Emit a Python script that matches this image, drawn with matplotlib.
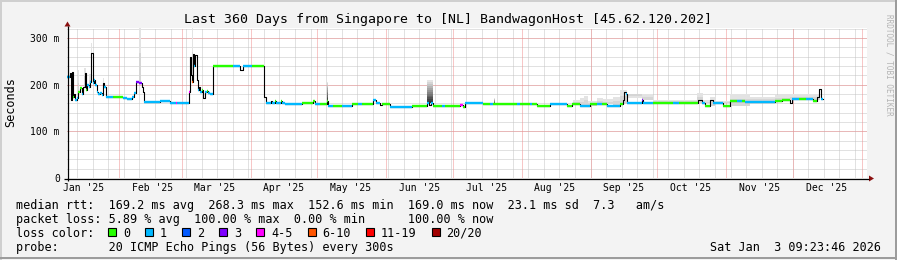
import numpy as np
import matplotlib
matplotlib.use("Agg")
import matplotlib.pyplot as plt
from matplotlib.patches import Rectangle, Polygon

plt.rcParams['font.family'] = ['DejaVu Sans Mono']

W, H = 897, 260

# time axis in days since 2025-01-01 00:00
t_end = 367.39          # Sat Jan 3 2026 09:23:46
t_start = t_end - 360.0
y_top = 321.4

month_starts = [0, 31, 59, 90, 120, 151, 181, 212, 243, 273, 304, 334, 365]
month_labels = ["Jan '25", "Feb '25", "Mar '25", "Apr '25", "May '25", "Jun '25",
                "Jul '25", "Aug '25", "Sep '25", "Oct '25", "Nov '25", "Dec '25"]

# median rtt (ms) valid from seg_day on, loss class index (-1 = only the dark line)
seg_day = [7.39, 8.7, 9.0, 9.5, 9.9, 10.5, 11.0, 11.7, 12.5, 13.2, 14.0, 14.7, 15.5, 15.9,
           16.5, 17.1, 17.7, 18.3, 18.9, 19.5, 20.1, 20.7, 21.5, 22.2, 23.0, 23.7, 24.2,
           24.8, 28.2, 32.7, 34.2, 36.5, 37.5, 38.3, 40.0, 41.0, 41.6, 42.0, 49.2, 53.7,
           56.5, 57.0, 62.3, 62.7, 63.2, 63.6, 64.1, 64.6, 65.2, 65.7, 66.2, 66.8, 67.4,
           68.1, 68.8, 69.4, 70.2, 71.0, 71.9, 73.2, 82.2, 85.2, 86.4, 90.5,
           96.2, 96.8, 98.0, 99.0, 99.6, 101.1, 101.6, 103.5, 104.1, 105.5, 113.0, 118.2,
           119.0, 121.3, 124.2, 125.0, 127.2, 131.0, 135.5, 138.5, 140.0, 145.2, 146.3,
           148.2, 149.0, 152.7, 162.5, 169.2, 170.5, 171.3, 172.2, 176.0, 177.5,
           184.2, 185.4, 186.5, 194.7, 197.7, 199.2, 209.7, 211.2, 215.7, 216.5, 218.7,
           224.7, 232.2, 234.5, 238.2, 242.7, 246.0, 248.0, 250.2, 256.2, 257.7, 258.2,
           258.8, 259.5, 266.0, 266.7, 271.2, 280.0, 283.0, 291.5, 293.0, 294.5, 296.8,
           298.2, 302.8, 305.8, 309.0, 311.0, 312.5, 326.0, 329.0, 332.8, 333.5, 337.0,
           340.0, 343.2, 344.8, 346.0, 346.7]
seg_rtt = [217, 224, 167, 228, 174, 181, 167, 171, 185, 192, 181, 196, 224, 189,
           199, 196, 206, 268.3, 203, 210, 199, 185, 180, 183, 178, 203, 196,
           174, 174, 171, 169, 173, 183, 206, 204, 196, 185, 162, 164, 160,
           160, 160, 185, 260, 221, 206, 266, 239, 263, 210, 189, 196, 185,
           189, 171, 185, 187, 183, 181, 239, 240, 232, 239, 239,
           174, 161, 160, 166, 160, 165, 160, 164, 160, 158, 160, 164,
           158, 158, 164, 155, 155, 155, 158, 158, 158, 167, 160,
           156, 158, 152.6, 155, 160, 157, 161, 154, 154, 154,
           156.5, 153, 160, 158.6, 158.6, 158, 158, 158, 158, 158, 155,
           158, 155, 158, 155, 158, 158, 158, 155, 158, 168, 185,
           180, 160, 167, 161.5, 161.5, 161.5, 160, 167, 160, 154.3, 168,
           161.5, 154, 165.7, 165.7, 165.7, 162.2, 165.7, 167, 161, 168.6, 168.6,
           168.6, 165.7, 174.3, 190, 168.6]
seg_loss = [1, -1, -1, -1, 0, -1, 1, 1, 0, 0, 1, -1, -1, 0,
            1, 1, 1, -1, 1, 1, 1, 1, 1, 1, 1, -1, 1,
            1, 0, 1, 1, 1, 1, 3, 3, -1, -1, 1, 1, 1,
            4, 1, 4, -1, -1, 5, -1, 1, -1, -1, 1, -1, 1,
            0, -1, 1, 0, 1, 1, 0, 1, -1, 1, 0,
            -1, 1, 1, -1, 1, 0, 1, 0, 1, 1, 0, 0,
            1, 0, 0, 1, 0, 1, 0, 1, 0, 1, 1,
            -1, 0, 1, 0, 1, -1, 1, 0, 1, 0,
            4, 0, 1, 0, 1, 0, 1, 0, 1, 0, 0,
            1, 0, 0, 1, 0, 1, 0, 1, 0, -1, -1,
            1, 1, 3, 1, 0, 1, 0, -1, 1, 0, -1,
            1, 0, 0, 1, 0, 1, 0, 0, -1, 1, 0,
            1, 0, -1, -1, 1]
data_end = 347.8

# smoke (ping spread): start day, end day, top (ms), dark gradient or light
smoke_start = [12.3, 15.2, 17.4, 18.2, 23.5, 40.0, 63.6, 124.2, 169.2, 199.5,
               235.2, 238.2, 240.0, 242.0, 245.7, 248.7, 253.2, 256.2, 259.2, 266.0, 271.2,
               276.5, 290.75, 293.75, 296.75, 299.0, 305.75, 314.75, 326.0, 332.75, 346.25]
smoke_end = [13.0, 15.8, 18.0, 18.6, 24.0, 40.6, 64.3, 125.0, 172.2, 200.0,
             238.2, 240.0, 242.0, 245.7, 248.7, 253.2, 256.2, 259.2, 266.0, 271.2, 276.5,
             290.75, 293.75, 296.75, 299.0, 305.75, 314.75, 326.0, 332.75, 346.25, 348.2]
smoke_top = [232, 236, 222, 290, 215, 321.4, 321.4, 206, 210, 171,
             167, 170.7, 176.5, 165.7, 170.7, 168.6, 174.3, 188.6, 170.7, 180, 167,
             167, 183, 167, 174, 165.7, 181, 174, 178, 180, 190]
smoke_dark = [False, False, False, False, False, False, False, True, True, True,
              False, False, False, False, False, False, False, False, False, False, False,
              False, False, False, False, False, False, False, False, False, False]

loss_names = ["0", "1", "2", "3", "4-5", "6-10", "11-19", "20/20"]
loss_colors = ["#26ff00", "#00b8ff", "#0059ff", "#7e00ff", "#ff00ff", "#ff5500",
               "#ff0000", "#a10000"]

title = "Last 360 Days from Singapore to [NL] BandwagonHost [45.62.120.202]"
legend_lines = [
    "median rtt:  169.2 ms avg  268.3 ms max  152.6 ms min  169.0 ms now  23.1 ms sd  7.3   am/s",
    "packet loss: 5.89 % avg  100.00 % max  0.00 % min      100.00 % now",
    "loss color:",
    "probe:       20 ICMP Echo Pings (56 Bytes) every 300s",
]
stamp = "Sat Jan  3 09:23:46 2026"


def rtt_at(d):
    i = np.searchsorted(seg_day, d, side='right') - 1
    return seg_rtt[max(i, 0)]


fig = plt.figure(figsize=(W / 100, H / 100), dpi=100, facecolor="#f3f3f3")
ax = fig.add_axes([67 / W, (H - 178) / H, 800 / W, 150 / H])
ax.set_facecolor("white")
ax.set_xlim(t_start, t_end)
ax.set_ylim(0, y_top)
for s in ax.spines.values():
    s.set_visible(False)

# grid
for d in np.arange(5, t_end, 7):
    if d > t_start:
        ax.axvline(d, color="#c4c4c4", lw=0.72, dashes=(1, 1), zorder=0.5)
for v in np.arange(20, y_top, 20):
    ax.axhline(v, color="#c4c4c4", lw=0.72, dashes=(1, 1), zorder=0.5)
for d in month_starts:
    if t_start < d < t_end:
        ax.axvline(d, color="#f09090", lw=0.72, dashes=(1, 1), zorder=0.6)
for v in [100, 200, 300]:
    ax.axhline(v, color="#f09090", lw=0.72, dashes=(1, 1), zorder=0.6)

# smoke
for s0, s1, top, dark in zip(smoke_start, smoke_end, smoke_top, smoke_dark):
    base = rtt_at(s0)
    if dark:
        n = 12
        for k in range(n):
            lo = base + (top - base) * k / n
            hi = base + (top - base) * (k + 1) / n
            g = 0.2 + 0.7 * k / (n - 1)
            ax.bar(s0, hi - lo, width=s1 - s0, bottom=lo, align='edge',
                   color=(g, g, g), lw=0, zorder=2)
    else:
        mid = base + (top - base) * 0.55
        ax.bar(s0, mid - base, width=s1 - s0, bottom=base, align='edge',
               color="#d5d5d5", lw=0, zorder=2)
        ax.bar(s0, top - mid, width=s1 - s0, bottom=mid, align='edge',
               color="#e3e3e3", lw=0, zorder=2)

# median line
ax.step(seg_day + [data_end], seg_rtt + [seg_rtt[-1]], where='post',
        color="#000000", lw=0.8, zorder=3)
ends = seg_day[1:] + [data_end]
for d0, d1, r, c in zip(seg_day, ends, seg_rtt, seg_loss):
    if c >= 0:
        ax.hlines(r, d0, d1, color=loss_colors[c], lw=1.7, zorder=4, capstyle='butt')

# ticks
label_days = [m + 15 for m in month_starts[:12]]
ax.set_xticks(label_days, month_labels)
ax.set_yticks([0, 100, 200, 300], ["0", "100 m", "200 m", "300 m"])
ax.tick_params(length=0, labelsize=7, colors="#000000")
ax.tick_params(axis='x', pad=3.7)
ax.tick_params(axis='y', pad=5.2)

# overlay in pixel coordinates
ov = fig.add_axes([0, 0, 1, 1], zorder=5)
ov.set_xlim(0, W)
ov.set_ylim(H, 0)
ov.axis('off')

# frame
ov.add_patch(Rectangle((0, 0), W, 2, color="#cfcfcf", lw=0))
ov.add_patch(Rectangle((0, 0), 2, H, color="#cfcfcf", lw=0))
ov.add_patch(Rectangle((0, H - 3), W, 2, color="#9c9c9c", lw=0))
ov.add_patch(Rectangle((W - 2, 0), 2, H, color="#9c9c9c", lw=0))

# axes with arrows
ov.plot([64, 869], [178.5, 178.5], color="#000000", lw=0.9, solid_capstyle='butt')
ov.plot([67.5, 67.5], [181, 26], color="#000000", lw=0.9, solid_capstyle='butt')
ov.add_patch(Polygon([(869, 175.5), (874, 178.5), (869, 181.5)], closed=True,
                     color="#8b1010", lw=0))
ov.add_patch(Polygon([(64.5, 26.5), (67.5, 21.5), (70.5, 26.5)], closed=True,
                     color="#8b1010", lw=0))

ov.text(448, 20, title, ha='center', va='center', fontsize=9.5, color="#000000")
ov.text(11, 102.5, "Seconds", rotation=90, ha='center', va='center', fontsize=8.5)
ov.text(889, 65, "RRDTOOL / TOBI OETIKER", rotation=270, ha='center', va='center',
        fontsize=5.5, color="#b4b4b4")

cw = 7.1
for i, line in enumerate(legend_lines):
    ov.text(16, 205.5 + 14 * i, line, ha='left', va='center', fontsize=8.5)
ov.text(881, 247.5, stamp, ha='right', va='center', fontsize=8.5)

bx = 108
for name, col in zip(loss_names, loss_colors):
    ov.add_patch(Rectangle((bx, 228), 8, 8, facecolor=col, edgecolor="#000000", lw=0.8))
    ov.text(bx + 15, 233.5, name, ha='left', va='center', fontsize=8.5)
    bx = bx + 15 + len(name) * cw + 15

fig.savefig("out.png", dpi=100, facecolor=fig.get_facecolor())
